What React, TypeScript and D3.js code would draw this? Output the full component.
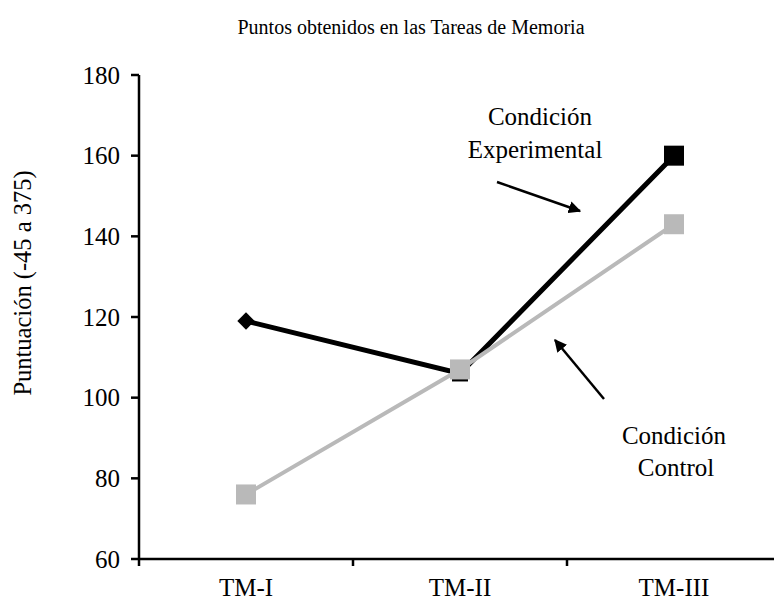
import React from "react";
import * as d3 from "d3";

const categories = ["TM-I", "TM-II", "TM-III"];
const experimental = [119, 106, 160];
const control = [76, 107, 143];
const yTicks = [60, 80, 100, 120, 140, 160, 180];
const title = "Puntos obtenidos en las Tareas de Memoria";
const yLabel = "Puntuación (-45 a 375)";

const W = 774;
const H = 602;
const FONT = "Liberation Serif";

export default function App() {
  const x = d3.scaleBand<string>().domain(categories).range([139, 781]).padding(0);
  const y = d3.scaleLinear().domain([60, 180]).range([559, 75]);
  const cx = (c: string) => (x(c) as number) + x.bandwidth() / 2;
  const line = d3
    .line<number>()
    .x((_, i) => cx(categories[i]))
    .y((d) => y(d));

  const gray = "#b9b9b9";
  const diamond = d3.symbol().type(d3.symbolSquare).size(150)() as string;
  const ts = (size: number): React.CSSProperties => ({ fontFamily: FONT, fontSize: size + "px" });

  return (
    <svg
      width={W}
      height={H}
      style={{ position: "absolute", left: 0, top: 0, background: "#fff" }}
    >
      <defs>
        <marker id="ah" viewBox="0 0 10 10" refX="9" refY="5" markerWidth="5" markerHeight="5" orient="auto">
          <path d="M0,0 L10,5 L0,10 z" fill="#000" />
        </marker>
      </defs>
      <rect width={W} height={H} fill="#fff" />
      <text x={411} y={34} textAnchor="middle" style={ts(20)}>
        {title}
      </text>

      {/* y axis */}
      <line x1={139} x2={139} y1={y(180)} y2={y(60) + 1} stroke="#000" strokeWidth={2.5} />
      {yTicks.map((t) => (
        <g key={t}>
          <line x1={131} x2={139} y1={y(t)} y2={y(t)} stroke="#000" strokeWidth={2.5} />
          <text x={120} y={y(t)} dy="0.35em" textAnchor="end" style={ts(25)}>
            {t}
          </text>
        </g>
      ))}
      {/* x axis */}
      <line x1={138} x2={W} y1={y(60)} y2={y(60)} stroke="#000" strokeWidth={2.5} />
      {categories.map((c) => (
        <line
          key={"t" + c}
          x1={x(c) as number}
          x2={x(c) as number}
          y1={y(60)}
          y2={y(60) + 7}
          stroke="#000"
          strokeWidth={2.5}
        />
      ))}
      {categories.map((c) => (
        <text key={c} x={cx(c)} y={y(60) + 37} textAnchor="middle" style={ts(25)}>
          {c}
        </text>
      ))}

      <text
        transform={`translate(31, ${(y(60) + y(180)) / 2 - 34}) rotate(-90)`}
        textAnchor="middle"
        style={ts(24.5)}
      >
        {yLabel}
      </text>

      {/* experimental */}
      <path d={line(experimental) as string} fill="none" stroke="#000" strokeWidth={5} />
      <path
        d={diamond}
        transform={`translate(${cx(categories[0])},${y(experimental[0])}) rotate(45)`}
        fill="#000"
      />
      <rect x={cx(categories[1]) - 8} y={y(experimental[1]) - 8} width={16} height={16} fill="#000" />
      <rect x={cx(categories[2]) - 10} y={y(experimental[2]) - 10} width={20} height={20} fill="#000" />

      {/* control */}
      <path d={line(control) as string} fill="none" stroke={gray} strokeWidth={4} />
      {control.map((v, i) => (
        <rect
          key={i}
          x={cx(categories[i]) - 10}
          y={y(v) - 10}
          width={20}
          height={20}
          fill={gray}
        />
      ))}

      {/* annotations */}
      <text x={540} y={125} textAnchor="middle" style={ts(25)}>
        Condición
      </text>
      <text x={535} y={158} textAnchor="middle" style={ts(25)}>
        Experimental
      </text>
      <line x1={497} y1={182} x2={580} y2={211} stroke="#000" strokeWidth={2.5} markerEnd="url(#ah)" />

      <text x={674} y={444} textAnchor="middle" style={ts(25)}>
        Condición
      </text>
      <text x={676} y={476} textAnchor="middle" style={ts(25)}>
        Control
      </text>
      <line x1={604} y1={399} x2={555} y2={340} stroke="#000" strokeWidth={2.5} markerEnd="url(#ah)" />
    </svg>
  );
}
